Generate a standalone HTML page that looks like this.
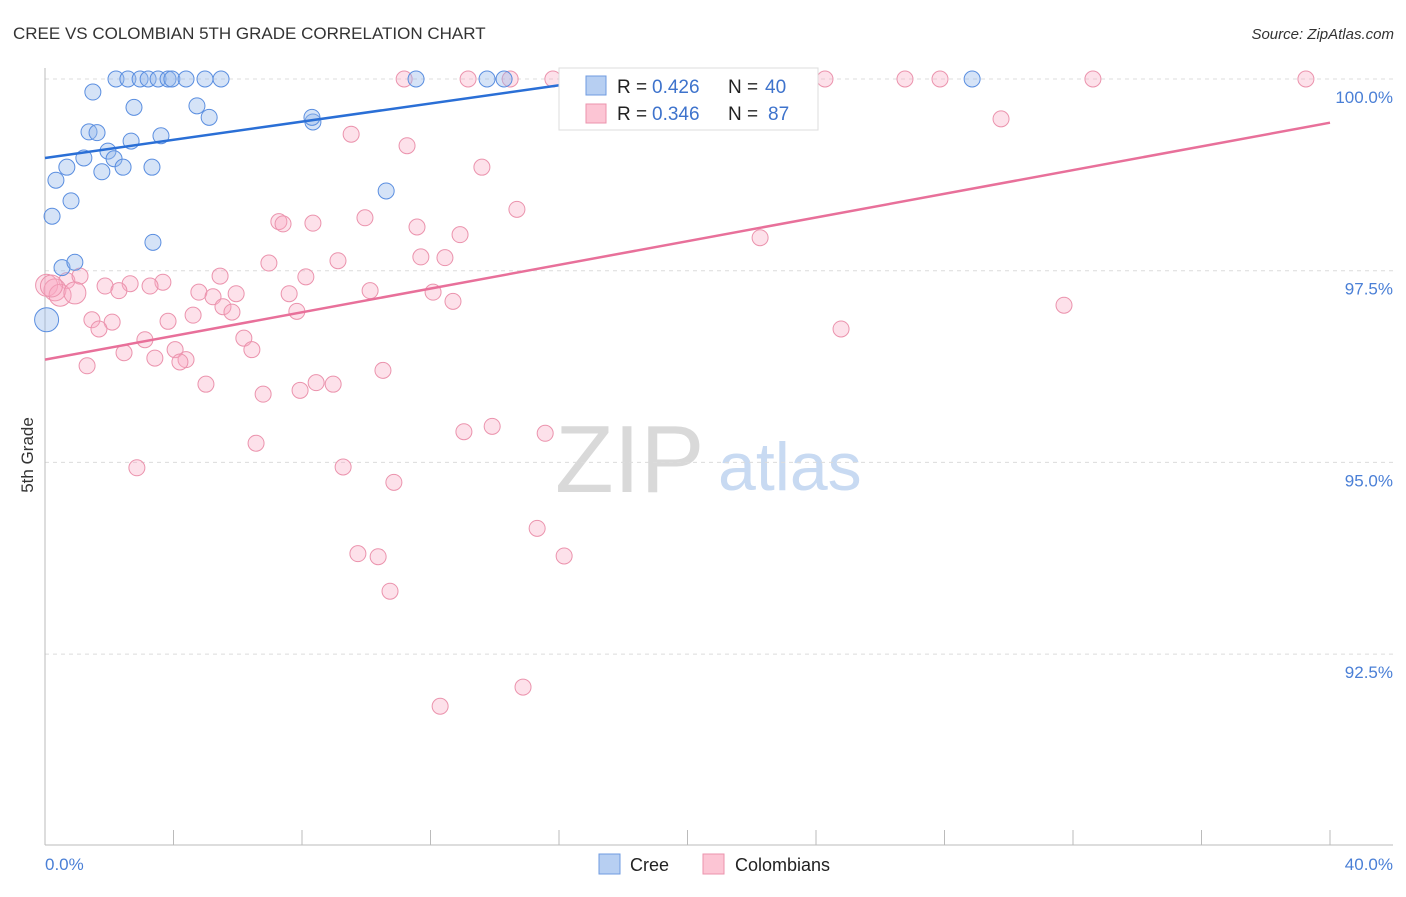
<!DOCTYPE html>
<html><head><meta charset="utf-8"><style>
body{margin:0;background:#fff;font-family:"Liberation Sans",sans-serif;}
svg text{font-family:"Liberation Sans",sans-serif;}
</style></head><body>
<svg id="chart" width="1406" height="892" viewBox="0 0 1406 892" xmlns="http://www.w3.org/2000/svg">
<text x="13" y="39" font-size="17" fill="#333">CREE VS COLOMBIAN 5TH GRADE CORRELATION CHART</text>
<text x="1394" y="39" font-size="15" fill="#333" font-style="italic" text-anchor="end">Source: ZipAtlas.com</text>
<g>
<text x="555" y="492" font-size="96" fill="#d9d9d9" font-family="Liberation Serif,serif">ZIP</text>
<text x="718" y="490" font-size="68" fill="#c8daf2">atlas</text>
</g>
<g id="grid"></g>
<g id="axes"></g>
<g id="pinkpts"></g>
<g id="bluepts"></g>
<g id="lines"></g>
<text transform="translate(33,455) rotate(-90)" font-size="17" fill="#333" text-anchor="middle">5th Grade</text>
<g>
<rect x="559" y="68" width="259" height="62" fill="#fff" stroke="#ddd"/>
<rect x="586" y="76" width="20" height="19" fill="#b7cff2" stroke="#6f9be0"/>
<rect x="586" y="104" width="20" height="19" fill="#fcc5d4" stroke="#eb93ad"/>
<text x="617" y="93" font-size="19" fill="#222">R =</text>
<text x="652" y="93" font-size="19" fill="#3e73cc">0.426</text>
<text x="728" y="93" font-size="19" fill="#222">N =</text>
<text x="765" y="93" font-size="19" fill="#3e73cc">40</text>
<text x="617" y="120" font-size="19" fill="#222">R =</text>
<text x="652" y="120" font-size="19" fill="#3e73cc">0.346</text>
<text x="728" y="120" font-size="19" fill="#222">N =</text>
<text x="768" y="120" font-size="19" fill="#3e73cc">87</text>
</g>
<g>
<rect x="599" y="854" width="21" height="20" fill="#b7cff2" stroke="#6f9be0"/>
<text x="630" y="871" font-size="18" fill="#222">Cree</text>
<rect x="703" y="854" width="21" height="20" fill="#fcc5d4" stroke="#eb93ad"/>
<text x="735" y="871" font-size="18" fill="#222">Colombians</text>
</g>
</svg>
<script>
const yTicks=[100,97.5,95,92.5];
const yTickLabels=["100.0%","97.5%","95.0%","92.5%"];
const xTickLabels=["0.0%","40.0%"];
const creeX=[2.21,2.58,2.96,3.21,3.52,3.83,3.95,4.39,4.98,5.48,11.55,13.76,14.29,28.86,1.49,2.77,4.73,5.11,8.34,8.31,1.37,1.62,2.68,3.61,1.21,1.96,2.15,2.43,1.77,3.33,0.68,0.34,0.81,0.22,3.36,10.62,0.53,0.93,0.05];
const creeY=[100,100,100,100,100,100,100,100,100,100,100,100,100,100,99.83,99.63,99.65,99.5,99.44,99.5,99.31,99.3,99.19,99.26,98.97,99.06,98.96,98.85,98.79,98.85,98.85,98.68,98.41,98.21,97.87,98.54,97.54,97.61,96.86];
const colX=[11.18,13.17,14.48,15.81,17.9,20.02,24.28,26.77,27.86,32.62,39.25,29.76,9.53,11.27,13.6,14.69,9.96,7.28,7.41,8.34,11.58,12.92,22.26,11.7,12.45,6.97,9.12,5.45,8.12,0.68,1.09,2.65,3.67,3.27,1.87,2.3,4.79,5.23,5.95,7.6,10.12,12.08,12.7,5.54,5.82,7.84,31.72,4.61,1.46,2.09,3.83,1.68,24.78,3.11,6.19,6.44,2.46,3.42,4.05,4.39,4.2,1.31,10.52,5.01,8.44,8.97,7.94,6.79,13.04,13.92,15.57,6.57,2.86,9.28,10.86,15.32,9.74,10.37,16.16,10.74,14.88,12.3,0.05,0.31,0.47,0.93,0.2];
const colY=[100,100,100,100,100,100,100,100,100,100,100,99.48,99.28,99.13,98.85,98.3,98.19,98.14,98.11,98.12,98.07,97.97,97.93,97.68,97.67,97.6,97.63,97.43,97.42,97.37,97.43,97.33,97.35,97.3,97.3,97.24,97.22,97.16,97.2,97.2,97.24,97.22,97.1,97.03,96.96,96.97,97.05,96.92,96.86,96.83,96.84,96.74,96.74,96.6,96.62,96.47,96.43,96.36,96.47,96.34,96.31,96.26,96.2,96.02,96.04,96.02,95.94,95.89,95.4,95.47,95.38,95.25,94.93,94.94,94.74,94.14,93.81,93.77,93.78,93.32,92.07,91.82,97.31,97.25,97.18,97.21,97.3];
const creeTrend=[[0,98.97],[16.2,99.93]];
const colTrend=[[0,96.34],[40,99.43]];
const NS="http://www.w3.org/2000/svg";
const X=v=>45+v/40*1285;
const Y=v=>79+(100-v)*76.68;
function mk(t,a,p){const e=document.createElementNS(NS,t);for(const k in a)e.setAttribute(k,a[k]);p.appendChild(e);return e;}
const grid=document.getElementById('grid'),axes=document.getElementById('axes');
yTicks.forEach((t,i)=>{
 const l=mk('line',{x1:45,x2:1393,y1:Y(t),y2:Y(t),stroke:'#dcdcdc','stroke-dasharray':'4,4'},grid);
 
 
 const tx=mk('text',{x:1393,y:Y(t)+24,'font-size':17,fill:'#4a7fd6','text-anchor':'end'},axes);
 tx.textContent=yTickLabels[i];
 
 
});
const ya=mk('line',{x1:45,x2:45,y1:68,y2:845,stroke:'#bbb'},axes);


const xa=mk('line',{x1:45,x2:1393,y1:845,y2:845,stroke:'#bbb'},axes);


for(let i=0;i<=10;i++){const tk=mk('line',{x1:X(i*4),x2:X(i*4),y1:830,y2:845,stroke:'#bbb'},axes);
 
 }
const xl0=mk('text',{x:45,y:870,'font-size':17,fill:'#4a7fd6'},axes);xl0.textContent=xTickLabels[0];


const xl1=mk('text',{x:1393,y:870,'font-size':17,fill:'#4a7fd6','text-anchor':'end'},axes);xl1.textContent=xTickLabels[1];


const pp=document.getElementById('pinkpts');
colX.forEach((v,i)=>{const c=mk('circle',{cx:X(v),cy:Y(colY[i]),r:(i>=82?11:8),fill:'rgba(248,170,195,0.35)',stroke:'#eb93ad','stroke-width':1},pp);
 
 });
const bp=document.getElementById('bluepts');
creeX.forEach((v,i)=>{const c=mk('circle',{cx:X(v),cy:Y(creeY[i]),r:(i==38?12:8),fill:'rgba(150,185,235,0.4)',stroke:'#5a8ee0','stroke-width':1},bp);
 
 });
const lg=document.getElementById('lines');
const bl=mk('line',{x1:X(creeTrend[0][0]),y1:Y(creeTrend[0][1]),x2:X(creeTrend[1][0]),y2:Y(creeTrend[1][1]),stroke:'#2a6fd6','stroke-width':2.5},lg);


const pl=mk('line',{x1:X(colTrend[0][0]),y1:Y(colTrend[0][1]),x2:X(colTrend[1][0]),y2:Y(colTrend[1][1]),stroke:'#e8709a','stroke-width':2.5},lg);


</script>
</body></html>
